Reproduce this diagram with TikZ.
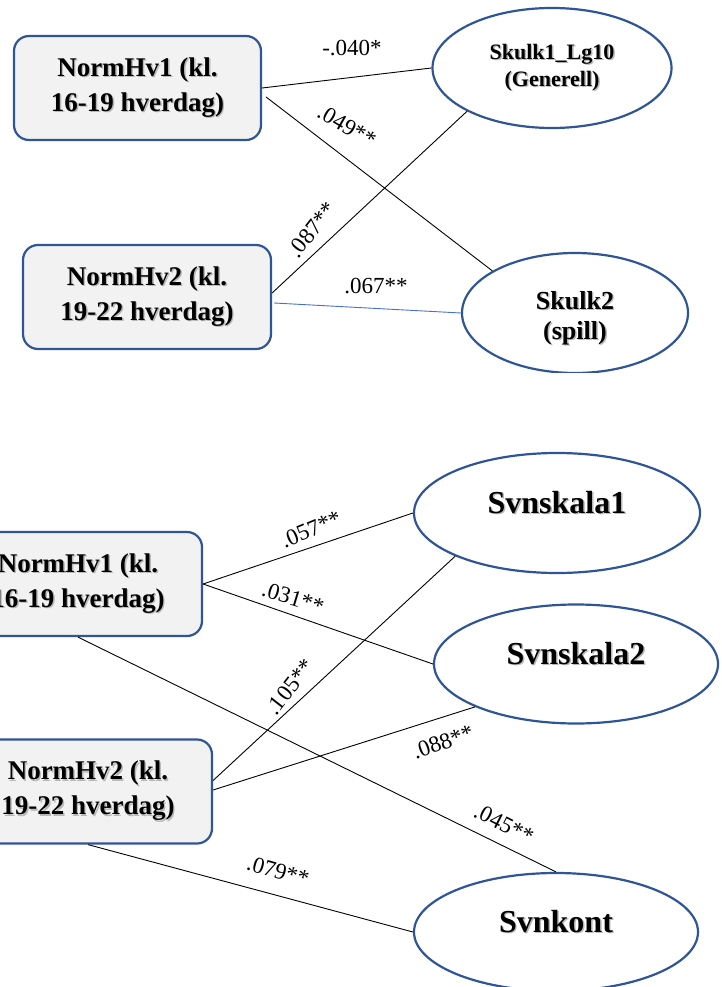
\documentclass[tikz,border=0pt]{standalone}
\usepackage{fontspec}
\setmainfont{Liberation Serif}
\usetikzlibrary{shapes.geometric}

\definecolor{edgeblue}{RGB}{47,85,151}
\definecolor{boxfill}{RGB}{242,242,242}
\definecolor{linkblue}{RGB}{68,114,196}

% bold caption text with a soft drop shadow behind it
\newcommand\shadowed[1]{\rlap{\kern1.4pt\raisebox{-1.4pt}{\textcolor{black!28}{#1}}}#1}

\begin{document}
\begin{tikzpicture}[x=1pt,y=-1pt,
  varbox/.style={draw=edgeblue, line width=2.2pt, fill=boxfill, rounded corners=15pt,
    minimum width=247pt, minimum height=104pt, inner sep=0pt, align=center,
    font=\fontsize{27}{35}\selectfont\bfseries},
  latent/.style={ellipse, draw=edgeblue, line width=2.2pt, inner sep=0pt, align=center},
  link/.style={line width=0.9pt, black},
  coef/.style={font=\fontsize{23}{23}\selectfont, inner sep=0pt},
]
\useasboundingbox (0,0) rectangle (722,987);

% ---- upper model: time of use -> truancy ----
\begin{scope}
\clip (0,0) rectangle (722,372);
\node[varbox] (hv1a) at (137.5,88) {\shadowed{NormHv1 (kl.}\\\shadowed{16-19 hverdag)}};
\node[varbox, minimum width=248pt] (hv2a) at (147,297) {\shadowed{NormHv2 (kl.}\\\shadowed{19-22 hverdag)}};
\node[latent, minimum width=239pt, minimum height=120pt, font=\fontsize{22}{27}\selectfont\bfseries]
  (sk1) at (552,68) {\shadowed{Skulk1\_Lg10}\\\shadowed{(Generell)}};
\node[latent, minimum width=226pt, minimum height=120pt, font=\fontsize{26}{30}\selectfont\bfseries]
  (sk2) at (575,313) {\rule{0pt}{29pt}\shadowed{Skulk2}\\\shadowed{(spill)}};

\draw[link] (hv1a.east) -- (sk1.west);
\draw[link] ([xshift=4pt,yshift=-9pt]hv1a.east) -- (sk2.153);
\draw[link] ([yshift=4pt]hv2a.east) -- (sk1.207);
\draw[link, linkblue] ([xshift=2pt,yshift=-6pt]hv2a.east) -- (sk2.west);

\node[coef] (c1) at (352,48) {-.040*};
\node[coef, rotate=-30] (c2) at (347,126) {.049**};
\node[coef, rotate=52] (c3) at (312,230) {.087**};
\node[coef] (c4) at (376,286) {.067**};
\end{scope}

% ---- lower model: time of use -> sleep ----
\begin{scope}
\clip (0,372) rectangle (722,987);
\node[varbox, minimum width=248pt] (hv1b) at (78,584) {\shadowed{NormHv1 (kl.}\\\shadowed{16-19 hverdag)}};
\node[varbox, minimum width=248pt] (hv2b) at (88,791.5) {\shadowed{NormHv2 (kl.}\\\shadowed{19-22 hverdag)}};
\node[latent, minimum width=286pt, minimum height=120pt, font=\fontsize{32}{36}\selectfont\bfseries,
  text height=20pt, text depth=20pt] (sv1) at (557,513) {\shadowed{Svnskala1}};
\node[latent, minimum width=284pt, minimum height=119pt, font=\fontsize{32}{36}\selectfont\bfseries,
  text height=20pt, text depth=20pt] (sv2) at (576,664) {\shadowed{Svnskala2}};
\node[latent, minimum width=284pt, minimum height=118pt, font=\fontsize{32}{36}\selectfont\bfseries,
  text height=20pt, text depth=20pt] (svk) at (556,932) {\shadowed{Svnkont}};

\draw[link] (hv1b.east) -- (sv1.west);
\draw[link] (hv1b.east) -- (sv2.west);
\draw[link] (hv1b.south) -- (svk.north);
\draw[link] ([yshift=11pt]hv2b.east) -- (sv1.203);
\draw[link] ([yshift=1.5pt]hv2b.east) -- (sv2.203);
\draw[link] (hv2b.south) -- (svk.west);

\node[coef, rotate=23] (d1) at (311,529) {.057**};
\node[coef, rotate=-17] (d2) at (293,598) {.031**};
\node[coef, rotate=52] (d3) at (290,687) {.105**};
\node[coef, rotate=20] (d4) at (443,742) {.088**};
\node[coef, rotate=-27] (d5) at (504,824) {.045**};
\node[coef, rotate=-16] (d6) at (278,871) {.079**};
\end{scope}
\end{tikzpicture}
\end{document}
